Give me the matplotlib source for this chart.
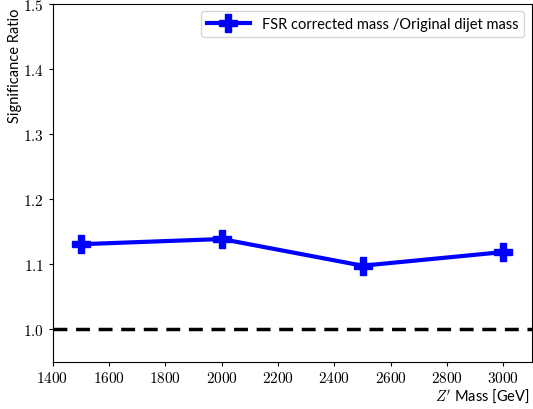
import matplotlib
matplotlib.use('Agg')
import matplotlib.pyplot as plt
from matplotlib.ticker import FuncFormatter

masses = [1500, 2000, 2500, 3000]
ratio = [1.131, 1.139, 1.098, 1.119]
label = 'FSR corrected mass /Original dijet mass'

plt.rcParams['mathtext.fontset'] = 'cm'
plt.rcParams['font.family'] = ['Lato', 'DejaVu Sans']

fig = plt.figure(figsize=(5.33, 4.10), dpi=100)
ax = fig.add_axes([0.0985, 0.1146, 0.899, 0.873])

ax.plot(masses, ratio, color='b', lw=3, marker='P', markersize=13, label=label)
ax.axhline(1.0, color='k', ls='--', lw=2.5, dashes=(4, 2.5))

ax.set_xlim(1400, 3100)
ax.set_ylim(0.95, 1.5)
ax.set_yticks([1.0, 1.1, 1.2, 1.3, 1.4, 1.5])
ax.set_xticks(range(1400, 3001, 200))
ax.xaxis.set_major_formatter(FuncFormatter(lambda v, p: r'$\mathrm{%d}$' % v))
ax.yaxis.set_major_formatter(FuncFormatter(lambda v, p: r'$\mathrm{%.1f}$' % v))
ax.tick_params(labelsize=11, length=3, pad=3)

ax.set_xlabel(r"$Z'$ Mass [GeV]", fontsize=10.5, ha='right', va='center')
ax.set_ylabel('Significance Ratio', fontsize=10.5, ha='right', va='center')
ax.xaxis.set_label_coords(0.995, -0.092)
ax.yaxis.set_label_coords(-0.078, 0.99)
ax.legend(loc='upper right', fontsize=10.5, handlelength=3)

fig.savefig('out.png', dpi=100)
